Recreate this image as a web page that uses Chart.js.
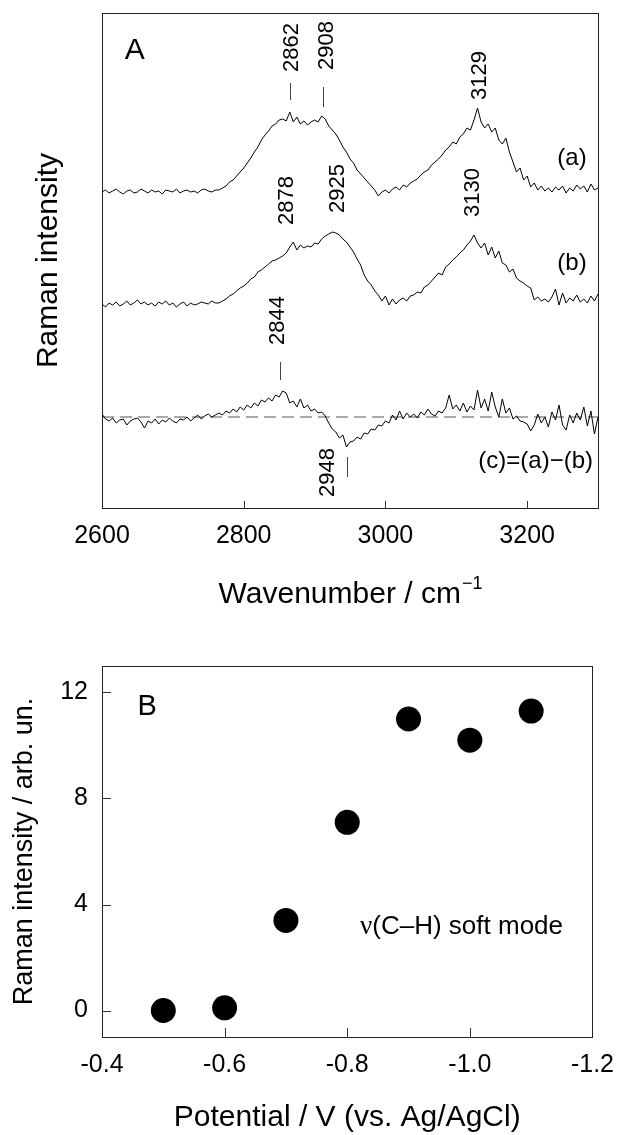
<!DOCTYPE html>
<html>
<head>
<title>Raman spectra and soft mode intensity</title>
<script src="https://cdn.jsdelivr.net/npm/chart.js"></script>
<style>
    body {
        margin: 0;
        background: #fff;
    }

    #wrapA {
        position: absolute;
        left: 0;
        top: 0;
    }

    #wrapB {
        position: absolute;
        left: 0;
        top: 620px;
    }
</style>
</head>
<body>
<div id="wrapA"><canvas id="spectraChart" width="627" height="620"></canvas></div>
<div id="wrapB"><canvas id="potentialChart" width="627" height="515"></canvas></div>

<script>
    // ---- panel A data: wavenumber grid and three spectra (relative to own baseline)
    const wavenumbers = [
        2600, 2605, 2610, 2615, 2620, 2625, 2630, 2635, 2640, 2645,
        2650, 2655, 2660, 2665, 2670, 2675, 2680, 2685, 2690, 2695,
        2700, 2705, 2710, 2715, 2720, 2725, 2730, 2735, 2740, 2745,
        2750, 2755, 2760, 2765, 2770, 2775, 2780, 2785, 2790, 2795,
        2800, 2805, 2810, 2815, 2820, 2825, 2830, 2835, 2840, 2845,
        2850, 2855, 2860, 2865, 2870, 2875, 2880, 2885, 2890, 2895,
        2900, 2905, 2910, 2915, 2920, 2925, 2930, 2935, 2940, 2945,
        2950, 2955, 2960, 2965, 2970, 2975, 2980, 2985, 2990, 2995,
        3000, 3005, 3010, 3015, 3020, 3025, 3030, 3035, 3040, 3045,
        3050, 3055, 3060, 3065, 3070, 3075, 3080, 3085, 3090, 3095,
        3100, 3105, 3110, 3115, 3120, 3125, 3130, 3135, 3140, 3145,
        3150, 3155, 3160, 3165, 3170, 3175, 3180, 3185, 3190, 3195,
        3200, 3205, 3210, 3215, 3220, 3225, 3230, 3235, 3240, 3245,
        3250, 3255, 3260, 3265, 3270, 3275, 3280, 3285, 3290, 3295,
        3300
    ];

    const spectrumA = [
        0, 2, -1, 1, 3, 0, -2, 1, 2, -1,
        0, 3, 1, -1, 2, 0, 1, -2, 2, 1,
        0, 3, -1, 1, 2, 0, 1, -1, 2, 3,
        1, 0, 2, 2, 4, 6, 10, 12, 16, 20,
        24, 29, 34, 40, 45, 52, 57, 61, 66, 68,
        72, 73, 71, 80, 70, 75, 68, 71, 67, 70,
        72, 70, 76, 73, 66, 62, 58, 52, 45, 40,
        33, 29, 22, 18, 14, 10, 6, 2, -4, 0,
        2, -1, 3, 5, 2, 7, 5, 9, 11, 13,
        17, 20, 22, 27, 30, 33, 37, 42, 45, 50,
        48, 55, 58, 64, 62, 72, 84, 70, 64, 68,
        60, 64, 52, 48, 54, 40, 30, 20, 24, 12,
        16, 5, 9, 2, 6, 1, 4, 0, 5, 2,
        6, -1, 4, 1, 7, 3, 6, 0, 8, 2,
        4
    ];

    const spectrumB = [
        1, -2, 2, 0, 3, -1, 1, 4, 0, 2,
        5, 1, 3, 0, 2, -1, 3, 1, 4, 0,
        2, -2, 1, 3, -1, 2, 0, 1, 3, 2,
        1, 4, 2, 2, 4, 6, 9, 11, 14, 17,
        19, 22, 26, 28, 33, 35, 38, 41, 44, 45,
        47, 49, 52, 58, 63, 55, 60, 57, 59, 58,
        62, 61, 66, 69, 71, 73, 72, 70, 66, 63,
        58, 53, 46, 40, 30, 24, 20, 14, 10, 4,
        9, 0, 6, 1, 5, 7, 4, 9, 10, 13,
        12, 18, 20, 24, 28, 32, 30, 38, 41, 45,
        48, 52, 55, 60, 64, 70, 62, 57, 62, 50,
        58, 47, 54, 42, 40, 33, 36, 27, 24, 22,
        19, 17, 5, 8, 4, 6, 3, 8, 16, 0,
        12, 2, 7, 4, 10, 3, 6, 2, 9, 4,
        11
    ];

    const spectrumC = [
        3, -2, -4, -1, -6, -3, -2, -8, -4, -2,
        -1, -5, -11, -4, -6, -2, -7, -3, -5, -1,
        -4, -6, -2, -3, 0, -4, -1, 2, -2, 1,
        3, 0, 2, 4, 2, 6, 4, 8, 5, 10,
        7, 12, 9, 14, 11, 17, 15, 19, 16, 22,
        20, 26, 24, 14, 16, 10, 18, 9, 12, 6,
        8, 4, 5, 1, -6, -12, -15, -21, -18, -30,
        -25, -24, -20, -22, -16, -17, -12, -13, -8, -9,
        -4, -6, 2, -3, 6, -2, 4, 0, 3, -1,
        5, 2, 8, 3, 1, 6, 4, 9, 22, 8,
        12, 6, 14, 5, 11, 7, 27, 9, 18, 6,
        25, 10, 0, 18, 4, 9, -2, 1, -4, -5,
        -7, -14, -8, 3, -6, 0, -10, 5, -3, 12,
        -8, -13, 2, -6, 4, -3, 10, -9, 6, -17,
        0
    ];

    // vertical stacking of the three traces (a), (b), (c)
    const stackOffsets = [225, 112, 0];
    const wavenumberTicks = [2600, 2800, 3000, 3200];

    // peak labels: text, label x, label start y, tick x, tick y1, tick y2
    const peakLabels = [
        ['2862', 2868, 345, 2866, 317, 334],
        ['2908', 2917, 347, 2912, 310, 330],
        ['3129', 3133, 317, null, 0, 0],
        ['2878', 2861, 192, null, 0, 0],
        ['2925', 2933, 204, null, 0, 0],
        ['3130', 3123, 200, null, 0, 0],
        ['2844', 2849, 72, 2851, 37, 55],
        ['2948', 2919, -80, 2946, -60, -40]
    ];
    const curveLabels = [
        ['(a)', 3284, 259],
        ['(b)', 3284, 154],
        ['(c)=(a)\u2212(b)', 3293, -44]
    ];

    // ---- panel B data
    const potentials = [-0.5, -0.6, -0.7, -0.8, -0.9, -1.0, -1.1];
    const softModeIntensity = [0.0, 0.1, 3.4, 7.1, 11.0, 10.2, 11.3];
    const potentialTicks = [-0.4, -0.6, -0.8, -1.0, -1.2];
    const intensityTicks = [0, 4, 8, 12];

    const FONT = "'Liberation Sans', Arial, sans-serif";
    Chart.defaults.font.family = FONT;
    Chart.defaults.color = '#000';

    // box around the plot area
    const frame = {
        id: 'frame',
        afterDraw(chart) {
            const { ctx, chartArea: a } = chart;
            ctx.save();
            ctx.strokeStyle = '#222';
            ctx.lineWidth = 1;
            ctx.strokeRect(Math.round(a.left) + 0.5, Math.round(a.top) + 0.5,
                Math.round(a.right - a.left), Math.round(a.bottom - a.top));
            ctx.restore();
        }
    };

    // ticks pointing into the plot
    const innerTicks = {
        id: 'innerTicks',
        afterDraw(chart, args, opts) {
            const { ctx, chartArea: a } = chart;
            ctx.save();
            ctx.strokeStyle = '#333';
            ctx.lineWidth = 1;
            ctx.beginPath();
            if (opts.x) {
                const s = chart.scales.x;
                s.ticks.forEach(t => {
                    const px = Math.round(s.getPixelForValue(t.value)) + 0.5;
                    if (px < a.left + 2 || px > a.right - 2) return;
                    ctx.moveTo(px, a.bottom);
                    ctx.lineTo(px, a.bottom - opts.x);
                });
            }
            if (opts.y) {
                const s = chart.scales.y;
                s.ticks.forEach(t => {
                    const py = Math.round(s.getPixelForValue(t.value)) + 0.5;
                    if (py < a.top + 2 || py > a.bottom - 2) return;
                    ctx.moveTo(a.left, py);
                    ctx.lineTo(a.left + opts.y, py);
                });
            }
            ctx.stroke();
            ctx.restore();
        }
    };

    const spectraNotes = {
        id: 'spectraNotes',
        afterDraw(chart) {
            const { ctx, scales: { x, y } } = chart;
            ctx.save();
            ctx.fillStyle = '#000';

            ctx.font = '22px ' + FONT;
            peakLabels.forEach(([txt, lx, ly, tx, t1, t2]) => {
                ctx.save();
                ctx.translate(x.getPixelForValue(lx), y.getPixelForValue(ly));
                ctx.rotate(-Math.PI / 2);
                ctx.textAlign = 'left';
                ctx.textBaseline = 'middle';
                ctx.fillText(txt, 0, 0);
                ctx.restore();
                if (tx !== null) {
                    const px = Math.round(x.getPixelForValue(tx)) + 0.5;
                    ctx.beginPath();
                    ctx.strokeStyle = '#444';
                    ctx.lineWidth = 1;
                    ctx.moveTo(px, y.getPixelForValue(t1));
                    ctx.lineTo(px, y.getPixelForValue(t2));
                    ctx.stroke();
                }
            });

            ctx.font = '24px ' + FONT;
            ctx.textAlign = 'right';
            ctx.textBaseline = 'middle';
            curveLabels.forEach(([txt, lx, ly]) => {
                ctx.fillText(txt, x.getPixelForValue(lx), y.getPixelForValue(ly));
            });

            ctx.font = '30px ' + FONT;
            ctx.textAlign = 'left';
            ctx.fillText('A', x.getPixelForValue(2632), y.getPixelForValue(366));

            // x axis title with superscript
            const main = 'Wavenumber / cm';
            const sup = '\u22121';
            ctx.font = '30px ' + FONT;
            const w1 = ctx.measureText(main).width;
            ctx.font = '18px ' + FONT;
            const w2 = ctx.measureText(sup).width;
            const cx = (chart.chartArea.left + chart.chartArea.right) / 2;
            const start = cx - (w1 + w2) / 2;
            ctx.textAlign = 'left';
            ctx.textBaseline = 'alphabetic';
            ctx.font = '30px ' + FONT;
            ctx.fillText(main, start, 603);
            ctx.font = '18px ' + FONT;
            ctx.fillText(sup, start + w1 + 1, 589);
            ctx.restore();
        }
    };

    const spectrumSets = [spectrumA, spectrumB, spectrumC].map((vals, k) => ({
        data: wavenumbers.map((w, i) => ({ x: w, y: vals[i] + stackOffsets[k] })),
        borderColor: '#000',
        borderWidth: 1,
        pointRadius: 0,
        tension: 0
    }));
    spectrumSets.push({
        data: [{ x: 2600, y: stackOffsets[2] }, { x: 3300, y: stackOffsets[2] }],
        borderColor: '#555',
        borderWidth: 1.2,
        borderDash: [12, 6],
        pointRadius: 0
    });

    new Chart(document.getElementById('spectraChart'), {
        type: 'line',
        data: { datasets: spectrumSets },
        options: {
            responsive: false,
            animation: false,
            layout: { padding: { top: 13, right: 29, left: 0, bottom: 0 } },
            plugins: {
                legend: { display: false },
                tooltip: { enabled: false },
                innerTicks: { x: 7 }
            },
            scales: {
                x: {
                    type: 'linear',
                    min: 2600,
                    max: 3300,
                    afterBuildTicks: s => { s.ticks = wavenumberTicks.map(v => ({ value: v })); },
                    afterFit: s => { s.height = 112; },
                    grid: { display: false, drawTicks: false },
                    border: { display: false },
                    ticks: { font: { size: 25 }, padding: 13, maxRotation: 0, callback: v => String(v) }
                },
                y: {
                    min: -91,
                    max: 404,
                    afterFit: s => { s.width = 102; },
                    grid: { display: false, drawTicks: false },
                    border: { display: false },
                    ticks: { display: false },
                    title: {
                        display: true,
                        text: 'Raman intensity',
                        font: { size: 30, lineHeight: 1 },
                        padding: { top: 34, bottom: 0 }
                    }
                }
            }
        },
        plugins: [frame, innerTicks, spectraNotes]
    });

    const potentialNotes = {
        id: 'potentialNotes',
        afterDraw(chart) {
            const { ctx, scales: { x, y } } = chart;
            ctx.save();
            ctx.fillStyle = '#000';
            ctx.textBaseline = 'middle';
            ctx.textAlign = 'left';
            ctx.font = '29px ' + FONT;
            ctx.fillText('B', x.getPixelForValue(-0.458), y.getPixelForValue(11.45));

            const nu = '\u03bd';
            const rest = '(C\u2013H) soft mode';
            ctx.font = '26px ' + FONT;
            const wr = ctx.measureText(rest).width;
            ctx.font = '27px "Liberation Serif", serif';
            const wn = ctx.measureText(nu).width;
            const right = x.getPixelForValue(-1.152);
            const yy = y.getPixelForValue(3.15);
            ctx.fillText(nu, right - wr - wn, yy);
            ctx.font = '26px ' + FONT;
            ctx.fillText(rest, right - wr, yy);
            ctx.restore();
        }
    };

    new Chart(document.getElementById('potentialChart'), {
        type: 'scatter',
        data: {
            datasets: [{
                data: potentials.map((p, i) => ({ x: p, y: softModeIntensity[i] })),
                backgroundColor: '#000',
                borderWidth: 0,
                pointRadius: 12.5,
                pointHoverRadius: 12.5
            }]
        },
        options: {
            responsive: false,
            animation: false,
            layout: { padding: { top: 46, right: 29, left: 0, bottom: 0 } },
            plugins: {
                legend: { display: false },
                tooltip: { enabled: false },
                innerTicks: { x: 9, y: 9 }
            },
            scales: {
                x: {
                    type: 'linear',
                    reverse: true,
                    min: -1.2,
                    max: -0.4,
                    afterBuildTicks: s => { s.ticks = potentialTicks.map(v => ({ value: v })); },
                    afterFit: s => { s.height = 98; },
                    grid: { display: false, drawTicks: false },
                    border: { display: false },
                    ticks: { font: { size: 25 }, padding: 13, maxRotation: 0, callback: v => v.toFixed(1) },
                    title: {
                        display: true,
                        text: 'Potential / V (vs. Ag/AgCl)',
                        font: { size: 30, lineHeight: 1 },
                        padding: { top: 0, bottom: 2 }
                    }
                },
                y: {
                    min: -1,
                    max: 13,
                    afterBuildTicks: s => { s.ticks = intensityTicks.map(v => ({ value: v })); },
                    afterFit: s => { s.width = 102; },
                    grid: { display: false, drawTicks: false },
                    border: { display: false },
                    ticks: { font: { size: 25 }, padding: 14, callback: v => String(v) },
                    title: {
                        display: true,
                        text: 'Raman intensity / arb. un.',
                        font: { size: 27, lineHeight: 1 },
                        padding: { top: 11, bottom: 0 }
                    }
                }
            }
        },
        plugins: [frame, innerTicks, potentialNotes]
    });
</script>
</body>
</html>
